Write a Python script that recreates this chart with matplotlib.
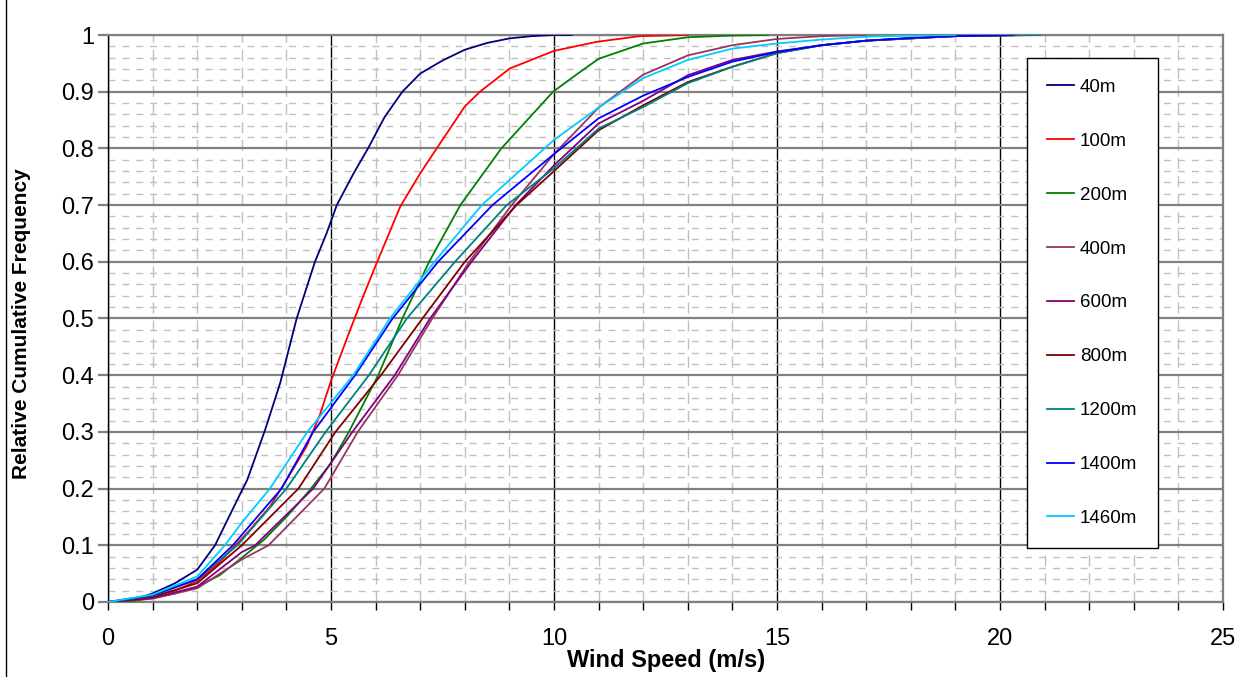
import matplotlib.pyplot as plt
from matplotlib.ticker import MultipleLocator, FuncFormatter
from matplotlib.lines import Line2D

plt.rcParams['font.family'] = ['Liberation Sans', 'DejaVu Sans']

# legend labels and line colours
heights = ['40m', '100m', '200m', '400m', '600m', '800m', '1200m', '1400m', '1460m']
colors = ['#000080', '#FF0000', '#008000', '#993366', '#800080',
          '#800000', '#008080', '#0000FF', '#00CCFF']

# points: wind speed (m/s) -> relative cumulative frequency
ws_40 = [0, 0.5, 1, 1.5, 2, 2.4, 2.96, 3.12, 3.52, 3.86, 4.23, 4.64, 4.9, 5.13, 5.5,
         5.83, 6.2, 6.6, 7, 7.5, 8, 8.5, 9, 9.5, 10, 10.4]
cf_40 = [0, 0.002, 0.015, 0.033, 0.057, 0.1, 0.19, 0.215, 0.303, 0.386, 0.5, 0.6, 0.65,
         0.7, 0.755, 0.8, 0.855, 0.9, 0.932, 0.955, 0.974, 0.986, 0.994, 0.998, 1.0, 1.0]

ws_100 = [0, 0.5, 1, 1.5, 2, 2.5, 3.18, 3.63, 4.0, 4.45, 4.75, 5.0, 5.43, 5.7, 6.02,
          6.55, 7.0, 7.37, 8.0, 8.34, 9.01, 10, 10.96, 11.93, 13]
cf_100 = [0, 0.002, 0.01, 0.02, 0.037, 0.07, 0.127, 0.168, 0.215, 0.274, 0.33, 0.39,
          0.48, 0.535, 0.597, 0.697, 0.756, 0.8, 0.874, 0.9, 0.941, 0.972, 0.988, 0.998, 1.0]

ws_200 = [0, 0.5, 1, 1.5, 2, 2.5, 3, 3.5, 4, 4.5, 5, 5.4, 6.06, 6.6, 7.2, 7.9, 8.82,
          9.98, 10.5, 11, 12, 13, 14, 14.8]
cf_200 = [0, 0.001, 0.007, 0.015, 0.027, 0.047, 0.078, 0.11, 0.15, 0.195, 0.245, 0.3,
          0.4, 0.5, 0.6, 0.7, 0.8, 0.9, 0.93, 0.958, 0.985, 0.996, 0.999, 1.0]

ws_400 = [0, 1, 2, 3, 3.6, 4.85, 5.6, 6.5, 7.27, 8.1, 9.05, 10, 11, 12, 13, 14, 15, 16, 17]
cf_400 = [0, 0.006, 0.024, 0.075, 0.1, 0.2, 0.3, 0.4, 0.5, 0.6, 0.7, 0.79, 0.872, 0.93,
          0.964, 0.982, 0.993, 0.998, 1.0]

ws_600 = [0, 1, 2, 3, 3.3, 4.6, 5.48, 6.43, 7.22, 8.15, 9.14, 10, 11, 12, 13, 14, 15,
          16, 17, 18, 19, 20.5]
cf_600 = [0, 0.007, 0.027, 0.088, 0.1, 0.2, 0.3, 0.4, 0.5, 0.6, 0.7, 0.77, 0.844, 0.884,
          0.929, 0.956, 0.971, 0.982, 0.99, 0.994, 0.998, 1.0]

ws_800 = [0, 1, 2, 3, 4.27, 5.1, 6.12, 7.05, 8.0, 9.16, 10, 11, 12, 13, 14, 15, 16, 17,
          18, 19, 20.7]
cf_800 = [0, 0.009, 0.033, 0.1, 0.2, 0.3, 0.4, 0.5, 0.6, 0.7, 0.76, 0.832, 0.876, 0.917,
          0.944, 0.968, 0.982, 0.99, 0.994, 0.998, 1.0]

ws_1200 = [0, 1, 2, 2.9, 4.0, 4.88, 5.85, 6.7, 7.78, 8.94, 10, 11, 12, 13, 14, 15, 16,
           17, 18, 19, 20.9]
cf_1200 = [0, 0.011, 0.04, 0.1, 0.2, 0.3, 0.4, 0.5, 0.6, 0.7, 0.765, 0.835, 0.873, 0.915,
           0.944, 0.968, 0.982, 0.99, 0.994, 0.998, 1.0]

ws_1400 = [0, 1, 2, 2.8, 3.89, 4.6, 5.54, 6.38, 7.4, 8.62, 10, 11, 12, 13, 14, 15, 16,
           17, 18, 19, 20.3]
cf_1400 = [0, 0.012, 0.04, 0.1, 0.2, 0.3, 0.4, 0.5, 0.6, 0.7, 0.79, 0.853, 0.893, 0.926,
           0.953, 0.97, 0.982, 0.99, 0.995, 0.998, 1.0]

ws_1460 = [0, 1, 2, 2.62, 3, 3.63, 4.47, 5.5, 6.32, 7.32, 8.38, 10, 11, 12, 13, 14, 15,
           16, 17, 18, 19]
cf_1460 = [0, 0.013, 0.045, 0.1, 0.14, 0.2, 0.3, 0.4, 0.5, 0.6, 0.7, 0.815, 0.872, 0.924,
           0.956, 0.976, 0.985, 0.992, 0.997, 0.999, 1.0]

speeds = [ws_40, ws_100, ws_200, ws_400, ws_600, ws_800, ws_1200, ws_1400, ws_1460]
freqs = [cf_40, cf_100, cf_200, cf_400, cf_600, cf_800, cf_1200, cf_1400, cf_1460]

fig = plt.figure(figsize=(12.37, 6.77), dpi=100)
ax = fig.add_axes([108 / 1237, 75 / 677, 1115 / 1237, 567 / 677])

for xs, ys, lab, col in zip(speeds, freqs, heights, colors):
    ax.plot(xs, ys, color=col, lw=1.3, label=lab, zorder=3)

ax.set_xlim(0, 25)
ax.set_ylim(0, 1)
ax.xaxis.set_major_locator(MultipleLocator(5))
ax.xaxis.set_minor_locator(MultipleLocator(1))
ax.yaxis.set_major_locator(MultipleLocator(0.1))
ax.yaxis.set_minor_locator(MultipleLocator(0.02))
ax.yaxis.set_major_formatter(FuncFormatter(lambda v, p: '%g' % round(v, 2)))

# gridlines: dashed minor, grey horizontal majors, black vertical majors
ax.set_axisbelow(True)
ax.grid(which='minor', axis='x', color='#C0C0C0', lw=1, linestyle=(0, (8, 5)))
ax.grid(which='minor', axis='y', color='#C0C0C0', lw=1, linestyle=(0, (5, 5)))
ax.grid(which='major', axis='y', color='#808080', lw=1.6)
ax.grid(which='major', axis='x', color='black', lw=1)

for side in ['top', 'right', 'bottom']:
    ax.spines[side].set_color('#808080')
    ax.spines[side].set_linewidth(1.6)
ax.spines['left'].set_color('black')
ax.spines['left'].set_linewidth(1)

ax.tick_params(axis='x', which='both', direction='out', length=6, width=1,
               color='black', labelsize=17, pad=13)
ax.tick_params(axis='y', which='major', direction='out', length=7, width=1.6,
               color='#808080', labelsize=17, pad=3)
ax.tick_params(axis='y', which='minor', length=0)

fig.text(666 / 1237, 1 - 660 / 677, 'Wind Speed (m/s)', ha='center', va='center',
         fontsize=17, fontweight='bold')
fig.text(22 / 1237, 1 - 324 / 677, 'Relative Cumulative Frequency', ha='center',
         va='center', rotation=90, fontsize=15, fontweight='bold')

leg = ax.legend(loc='upper left', bbox_to_anchor=(0.824, 0.959), fontsize=13.5,
                frameon=True, fancybox=False, edgecolor='black', framealpha=1,
                borderpad=1.1, labelspacing=1.96, handlelength=1.44,
                handletextpad=0.3, borderaxespad=0)
leg.get_frame().set_linewidth(1)

# thin frame line on the left edge of the picture
fig.add_artist(Line2D([5.5 / 1237, 5.5 / 1237], [0, 1], color='black', lw=1))

fig.savefig('out.png', dpi=100)
